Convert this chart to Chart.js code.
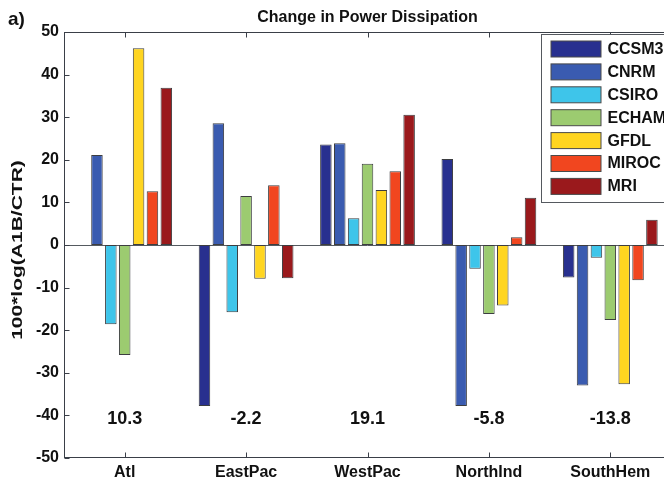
<!DOCTYPE html>
<html>
<head>
<meta charset="utf-8">
<script src="https://cdn.jsdelivr.net/npm/chart.js@4/dist/chart.umd.min.js"></script>
<style>
  html, body { margin: 0; padding: 0; background: #ffffff; overflow: hidden; }
  #wrap { width: 672px; height: 484px; }
</style>
</head>
<body>
<div id="wrap"><canvas id="c" width="672" height="484"></canvas></div>
<script>
// Regions (x categories) and models (one bar series each)
const regions = ['Atl', 'EastPac', 'WestPac', 'NorthInd', 'SouthHem'];
const models  = ['CCSM3', 'CNRM', 'CSIRO', 'ECHAM', 'GFDL', 'MIROC', 'MRI'];

// 100*log(A1B/CTR) of power dissipation, per model, per region
const ccsm3 = [0.0, -37.8, 23.6, 20.2, -7.6];
const cnrm  = [21.1, 28.6, 23.9, -37.8, -33.0];
const csiro = [-18.6, -15.8, 6.3, -5.6, -3.0];
const echam = [-25.8, 11.5, 19.1, -16.2, -17.6];
const gfdl  = [46.2, -7.9, 12.9, -14.2, -32.7];
const miroc = [12.6, 14.0, 17.3, 1.8, -8.3];
const mri   = [36.9, -7.8, 30.6, 11.1, 5.9];

// Multi-model mean printed under each region
const ensembleMean = [10.3, -2.2, 19.1, -5.8, -13.8];

// Y axis tick values
const yTickValues = [-50, -40, -30, -20, -10, 0, 10, 20, 30, 40, 50];

const seriesValues = [ccsm3, cnrm, csiro, echam, gfdl, miroc, mri];
const modelColors = ['#28308f', '#3a5bb0', '#3ec5ea', '#9ccb70', '#ffd520', '#f1461f', '#9a191c'];

const FONT = '"Liberation Sans", Arial, Helvetica, sans-serif';
const AXIS_COLOR = '#3a3f48';

const decorations = {
  id: 'decorations',
  beforeDraw(chart) {
    const ctx = chart.ctx;
    ctx.save();
    ctx.fillStyle = '#ffffff';
    ctx.fillRect(0, 0, chart.width, chart.height);
    ctx.restore();
  },
  beforeDatasetsDraw(chart) {
    // bar baseline at zero
    const { ctx, chartArea: a, scales: { y } } = chart;
    const y0 = Math.round(y.getPixelForValue(0)) + 0.5;
    ctx.save();
    ctx.strokeStyle = '#555a60';
    ctx.lineWidth = 1;
    ctx.beginPath();
    ctx.moveTo(a.left, y0);
    ctx.lineTo(a.right, y0);
    ctx.stroke();
    ctx.restore();
  },
  afterDatasetsDraw(chart) {
    const { ctx, chartArea: a, scales: { x, y } } = chart;
    ctx.save();

    // axes box
    ctx.strokeStyle = AXIS_COLOR;
    ctx.lineWidth = 1;
    const L = Math.round(a.left) + 0.5, R = Math.round(a.right) - 0.5;
    const T = Math.round(a.top) + 0.5, B = Math.round(a.bottom) - 0.5;
    ctx.strokeRect(L, T, R - L, B - T);

    // inward tick marks
    const tl = 5;
    ctx.beginPath();
    y.ticks.forEach(t => {
      const py = Math.round(y.getPixelForValue(t.value)) + 0.5;
      ctx.moveTo(L, py); ctx.lineTo(L + tl, py);
      ctx.moveTo(R, py); ctx.lineTo(R - tl, py);
    });
    regions.forEach((r, i) => {
      const px = Math.round(x.getPixelForValue(i)) + 0.5;
      ctx.moveTo(px, B); ctx.lineTo(px, B - tl);
      ctx.moveTo(px, T); ctx.lineTo(px, T + tl);
    });
    ctx.stroke();

    // multi-model means
    ctx.fillStyle = '#111111';
    ctx.font = 'bold 18px ' + FONT;
    ctx.textAlign = 'center';
    ctx.textBaseline = 'middle';
    ensembleMean.forEach((m, i) => {
      ctx.fillText(m.toFixed(1), x.getPixelForValue(i), y.getPixelForValue(-40.9));
    });

    // title and panel letter
    ctx.font = 'bold 16px ' + FONT;
    ctx.textBaseline = 'alphabetic';
    ctx.fillText('Change in Power Dissipation', (a.left + a.right) / 2, 22);
    ctx.textAlign = 'left';
    ctx.font = 'bold 19px ' + FONT;
    ctx.fillText('a)', 8, 25);

    // y axis title
    ctx.save();
    ctx.translate(18, 250);
    ctx.rotate(-Math.PI / 2);
    ctx.scale(1.5, 1);
    ctx.font = 'bold 14px ' + FONT;
    ctx.textAlign = 'center';
    ctx.textBaseline = 'middle';
    ctx.fillText('100*log(A1B/CTR)', 0, 0);
    ctx.restore();

    // legend box
    const lx = 541.5, ly = a.top + 2.5, pitch = 22.9;
    const lh = 168;
    ctx.fillStyle = '#ffffff';
    ctx.fillRect(lx, ly, 130, lh);
    ctx.strokeStyle = '#55595f';
    ctx.strokeRect(lx, ly, 130, lh);
    ctx.font = 'bold 16px ' + FONT;
    ctx.textAlign = 'left';
    ctx.textBaseline = 'middle';
    chart.data.datasets.forEach((ds, i) => {
      const sy = ly + 6.5 + i * pitch;
      ctx.fillStyle = ds.backgroundColor;
      ctx.fillRect(lx + 9.5, sy, 50, 16);
      ctx.strokeStyle = '#4a4a4a';
      ctx.strokeRect(lx + 9.5, sy, 50, 16);
      ctx.fillStyle = '#111111';
      ctx.fillText(ds.label, lx + 66, sy + 8.5);
    });

    ctx.restore();
  }
};

new Chart(document.getElementById('c'), {
  type: 'bar',
  data: {
    labels: regions,
    datasets: models.map((m, i) => ({
      label: m,
      data: seriesValues[i],
      backgroundColor: modelColors[i],
      borderColor: '#3c3d40',
      borderWidth: 1,
      borderSkipped: false,
      categoryPercentage: 0.8,
      barPercentage: 0.83
    }))
  },
  options: {
    responsive: false,
    animation: false,
    devicePixelRatio: 1,
    layout: { padding: { top: 32, right: 1, left: 0, bottom: 0 } },
    plugins: {
      legend: { display: false },
      tooltip: { enabled: false },
      title: { display: false }
    },
    scales: {
      x: {
        grid: { display: false, drawTicks: false },
        border: { display: false },
        ticks: {
          color: '#111111',
          font: { family: FONT, size: 16, weight: 'bold' },
          padding: 5,
          maxRotation: 0,
          autoSkip: false
        },
        afterFit(s) { s.height = 26; }
      },
      y: {
        min: -50,
        max: 50,
        grid: { display: false, drawTicks: false },
        border: { display: false },
        afterBuildTicks(s) { s.ticks = yTickValues.map(v => ({ value: v })); },
        ticks: {
          color: '#111111',
          font: { family: FONT, size: 16, weight: 'bold' },
          padding: 5
        },
        afterFit(s) { s.width = 64; }
      }
    }
  },
  plugins: [decorations]
});
</script>
</body>
</html>
